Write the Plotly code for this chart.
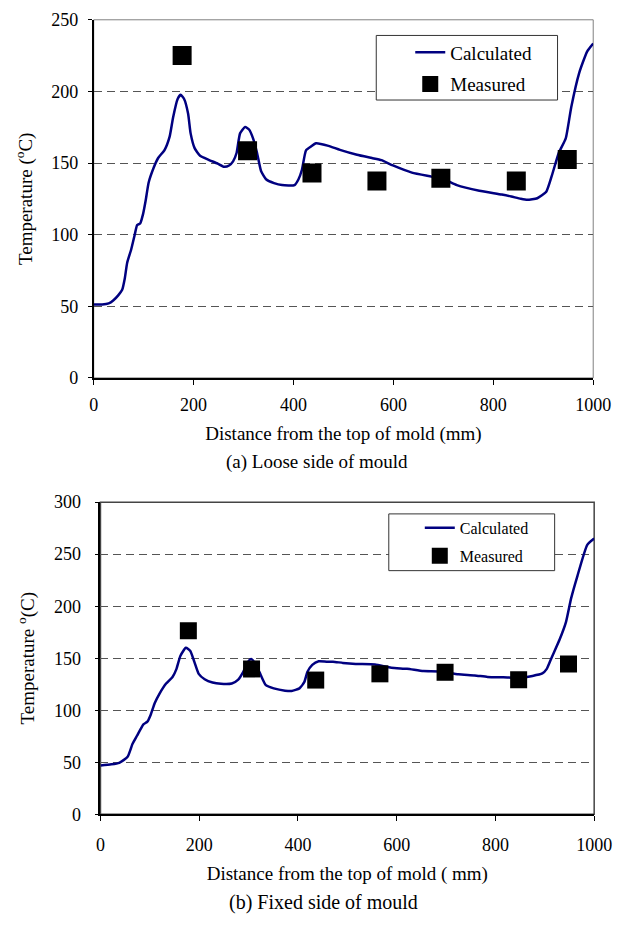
import plotly.graph_objects as go

# ---- data: (a) loose side of mould ----
calc_a_x = [0, 17, 30, 39, 49, 57, 62, 67, 75, 82, 87, 93, 99, 104, 110, 120, 129, 142, 152, 159,
            168, 174, 181, 189, 194, 202, 213, 229, 248, 261, 271, 279, 286, 293, 303, 311, 319, 327, 335, 345,
            361, 377, 402, 410, 417, 425, 435, 445, 470, 493, 527, 557, 576, 599, 637, 676, 701, 727, 772, 817,
            836, 855, 868, 888, 906, 917, 931, 945, 956, 972, 988, 1000]
calc_a_y = [51.2, 51.2, 52, 54, 57.6, 61.5, 69, 80.4, 89.6, 99.8, 106.7, 107.8, 114.7, 123.8, 136.4, 146.7, 153.5, 159.2, 168.4, 182,
            194.7, 197.6, 194.7, 184.4, 170.7, 160.4, 155.1, 152.4, 149.6, 147.4, 148.3, 151.2, 157, 170.7, 175.2, 173.4, 167.2, 157, 144.4, 138.7,
            136, 134.6, 134.6, 138.7, 145.5, 158.8, 161.5, 163.8, 162, 159.2, 155.8, 153.5, 152, 148.3, 143.3, 140.5, 138.7, 134.6, 130.7, 128,
            126.6, 125, 124.3, 125.4, 130, 141, 157, 167.2, 189, 213, 228, 233.5]
meas_a_x = [177, 308, 437, 567, 695, 846, 948]
meas_a_y = [225, 158.6, 143, 137.5, 139.4, 137.5, 152.4]

# ---- data: (b) fixed side of mould ----
calc_b_x = [0, 22, 38, 55, 65, 74, 87, 95, 102, 110, 120, 133, 146, 154, 162, 173, 182, 190, 199, 211,
            227, 244, 266, 279, 289, 299, 305, 312, 322, 335, 351, 374, 387, 403, 413, 419, 429, 442, 458, 471,
            491, 517, 556, 589, 621, 654, 686, 725, 758, 784, 816, 849, 875, 895, 904, 914, 930, 943, 953, 966,
            986, 1000]
calc_b_y = [47, 48, 49.5, 55.2, 67.7, 75.5, 86.5, 89, 96, 107, 116.3, 125.7, 132, 139.8, 152.4, 160, 157, 146.7, 135, 129.8,
            126.6, 125.4, 125.7, 129.5, 136.7, 146.7, 149.2, 146, 136.7, 124.1, 121, 118.8, 118.5, 121, 127.3, 136.7, 143.6, 147, 146.7, 146.7,
            145.5, 144.5, 143.9, 140.8, 139.8, 137.6, 137.3, 134.5, 133.5, 132, 131.7, 131.3, 133, 135.4, 139.8, 150.8, 168, 185, 207, 229,
            259, 265]
meas_b_x = [178, 306, 436, 566, 698, 847, 948]
meas_b_y = [176.3, 139.7, 129, 135, 136.5, 129.3, 144.4]

x_ticks = [0, 200, 400, 600, 800, 1000]
y_ticks_a = [0, 50, 100, 150, 200, 250]
y_ticks_b = [0, 50, 100, 150, 200, 250, 300]

FONT = "Liberation Serif, Times New Roman, serif"
LINE_COLOR = "#000080"
W, H = 644, 928

fig = go.Figure()

fig.add_trace(go.Scatter(x=calc_a_x, y=calc_a_y, mode="lines", name="Calculated",
                         line=dict(color=LINE_COLOR, width=2.5, shape="spline", smoothing=0.5),
                         xaxis="x", yaxis="y", legend="legend", legendgroup="a1"))
fig.add_trace(go.Scatter(x=meas_a_x, y=meas_a_y, mode="markers", name="Measured",
                         marker=dict(symbol="square", size=19, color="black"),
                         xaxis="x", yaxis="y", legend="legend", legendgroup="a2"))
fig.add_trace(go.Scatter(x=calc_b_x, y=calc_b_y, mode="lines", name="Calculated",
                         line=dict(color=LINE_COLOR, width=2.5, shape="spline", smoothing=0.5),
                         xaxis="x2", yaxis="y2", legend="legend2", legendgroup="b1"))
fig.add_trace(go.Scatter(x=meas_b_x, y=meas_b_y, mode="markers", name="Measured",
                         marker=dict(symbol="square", size=17, color="black"),
                         xaxis="x2", yaxis="y2", legend="legend2", legendgroup="b2"))

# plot-area domains in pixels
ax_a = dict(l=92, r=610, t=10, b=376)
ax_b = dict(l=99, r=611, t=503, b=822)
# legend boxes in pixels
leg_a = dict(l=385, r=573, t=26, b=92)
leg_b = dict(l=398, r=570, t=515, b=573)


def dom_x(a):
    return [a["l"] / W, a["r"] / W]


def dom_y(a):
    return [1 - a["b"] / H, 1 - a["t"] / H]


common_x = dict(range=[0, 1000], tickvals=x_ticks, ticks="outside", ticklen=5, tickwidth=1.2,
                tickcolor="black", showline=True, linecolor="black", linewidth=1.5,
                showgrid=False, zeroline=False,
                tickfont=dict(family=FONT, size=18, color="black"))
common_y = dict(ticks="outside", ticklen=4, tickwidth=1.2, tickcolor="black",
                showline=True, linecolor="black", linewidth=1.5, zeroline=False,
                showgrid=True, gridcolor="#555555", gridwidth=1, griddash="8px,5px",
                tickfont=dict(family=FONT, size=18, color="black"))

fig.update_layout(
    width=W, height=H,
    margin=dict(l=0, r=0, t=0, b=0),
    paper_bgcolor="white", plot_bgcolor="white",
    font=dict(family=FONT, color="black", size=18),
    xaxis=dict(common_x, domain=dom_x(ax_a), anchor="y", ticklabelstandoff=5,
               title=dict(text="Distance from the top of mold (mm)", standoff=12,
                          font=dict(family=FONT, size=19))),
    yaxis=dict(common_y, domain=dom_y(ax_a), anchor="x", range=[0, 250], tickvals=y_ticks_a,
               ticklabelstandoff=6,
               title=dict(text="Temperature (<sup>o</sup>C)", standoff=14,
                          font=dict(family=FONT, size=19))),
    xaxis2=dict(common_x, domain=dom_x(ax_b), anchor="y2", ticklabelstandoff=8,
                title=dict(text="Distance from the top of mold ( mm)", standoff=13,
                           font=dict(family=FONT, size=19))),
    yaxis2=dict(common_y, domain=dom_y(ax_b), anchor="x2", range=[0, 300], tickvals=y_ticks_b,
                ticklabelstandoff=10,
                title=dict(text="Temperature <sup>o</sup>(C)", standoff=14,
                           font=dict(family=FONT, size=19))),
    legend=dict(x=leg_a["l"] / W, y=1 - 24 / H, xanchor="left", yanchor="top",
                bgcolor="rgba(0,0,0,0)", borderwidth=0,
                font=dict(family=FONT, size=19, color="black"),
                tracegroupgap=4, itemwidth=30, indentation=34),
    legend2=dict(x=leg_b["l"] / W, y=1 - 512 / H, xanchor="left", yanchor="top",
                 bgcolor="rgba(0,0,0,0)", borderwidth=0,
                 font=dict(family=FONT, size=16, color="black"),
                 tracegroupgap=4, itemwidth=30, indentation=31),
    showlegend=True,
)

# plot-area frames (gray top/right border)
for a, col, w in [(ax_a, "#808080", 1), (ax_b, "#444444", 1.5)]:
    fig.add_shape(type="rect", xref="paper", yref="paper",
                  x0=a["l"] / W, x1=a["r"] / W, y0=1 - a["b"] / H, y1=1 - a["t"] / H,
                  line=dict(color=col, width=w), layer="below")

# legend boxes (white, bordered) drawn above the data, under the legend entries
for lg in (leg_a, leg_b):
    fig.add_shape(type="rect", xref="paper", yref="paper",
                  x0=lg["l"] / W, x1=lg["r"] / W, y0=1 - lg["b"] / H, y1=1 - lg["t"] / H,
                  line=dict(color="#333333", width=1), fillcolor="white", layer="above")

fig.add_annotation(text="(a) Loose side of mould", xref="paper", yref="paper",
                   x=324 / W, y=1 - 462 / H, xanchor="center", yanchor="middle", showarrow=False,
                   font=dict(family=FONT, size=19, color="black"))
fig.add_annotation(text="(b) Fixed side of mould", xref="paper", yref="paper",
                   x=330 / W, y=1 - 912 / H, xanchor="center", yanchor="middle", showarrow=False,
                   font=dict(family=FONT, size=20, color="black"))

fig.write_html("out.html")
